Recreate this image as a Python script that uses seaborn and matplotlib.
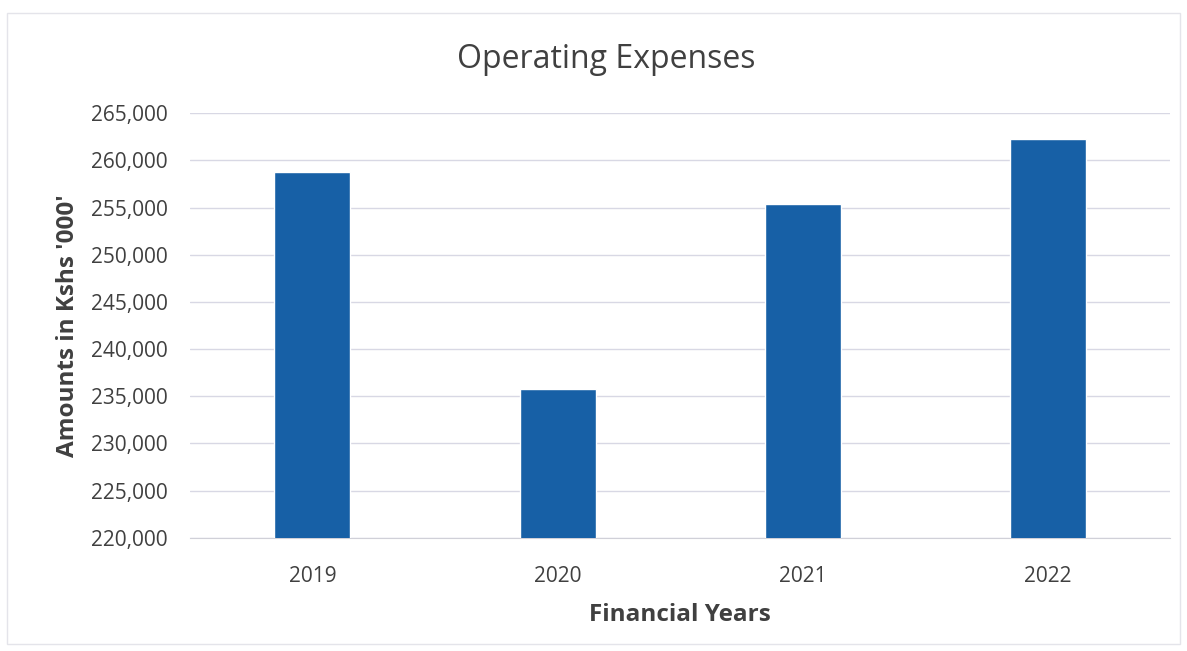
"""Operating expenses bar chart."""

import matplotlib
matplotlib.use("Agg")
import matplotlib.pyplot as plt
import matplotlib.ticker as mticker
import pandas as pd
import seaborn as sns
from matplotlib.patches import Rectangle

years = ["2019", "2020", "2021", "2022"]
expenses = [258800, 235800, 255400, 262300]
y_ticks = [220000, 225000, 230000, 235000, 240000, 245000, 250000, 255000, 260000, 265000]

df = pd.DataFrame({"year": years, "amount": expenses})

sns.set_style("white")
plt.rcParams["font.family"] = ["Open Sans", "DejaVu Sans"]

fig = plt.figure(figsize=(11.87, 6.51), dpi=100)
ax = fig.add_axes([0.160, 0.174, 0.826, 0.652])

sns.barplot(data=df, x="year", y="amount", color="#1760a6", width=0.31,
            saturation=1, ax=ax, zorder=3)

ax.set_ylim(220000, 265000)
ax.set_yticks(y_ticks)
ax.yaxis.set_major_formatter(mticker.StrMethodFormatter("{x:,.0f}"))
ax.grid(axis="y", color="#d8d8e4", linewidth=1, zorder=0)
ax.set_axisbelow(True)

for side in ["left", "right", "top"]:
    ax.spines[side].set_visible(False)
ax.spines["bottom"].set_color("#d0d0d8")
ax.tick_params(axis="both", length=0, labelsize=15, labelcolor="#404040")
ax.tick_params(axis="y", pad=16)
ax.tick_params(axis="x", pad=20)

# title sits over the middle of the whole chart, not the plot area
fig.text(0.511, 0.908, "Operating Expenses", fontsize=23, color="#404040",
         ha="center", va="center")
ax.set_xlabel("Financial Years", fontsize=17.5, fontweight="bold", color="#404040", labelpad=12)
ax.set_ylabel("Amounts in Kshs '000'", fontsize=17.5, fontweight="bold", color="#404040", labelpad=8)

fig.patches.append(Rectangle((0.006, 0.01), 0.988, 0.97, transform=fig.transFigure,
                             fill=False, edgecolor="#e4e4ea", linewidth=1))

fig.savefig("out.png", dpi=100, facecolor="white")
